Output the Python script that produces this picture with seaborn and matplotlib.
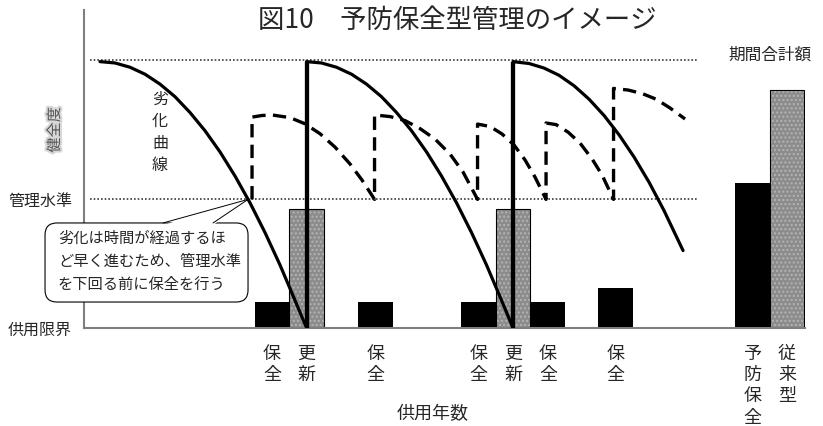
import numpy as np
import pandas as pd
import seaborn as sns
import matplotlib.pyplot as plt
import matplotlib.transforms as mtransforms
from matplotlib import patheffects
from matplotlib.patches import FancyBboxPatch, Polygon, Rectangle

# health (0 = 供用限界, 100 = new) against service years
full_health = 100
mgmt_level = 48

# degradation curves without maintenance (solid)
curve1_x = [3.2, 6.2, 9.2, 12.2, 15.2, 18.2, 21.2, 24.2, 27.2, 30.2, 33.2, 36.2, 39.2, 42.2, 44.5]
curve1_h = [99.4, 98.9, 97.3, 94.7, 91.0, 86.3, 80.4, 73.6, 65.7, 56.7, 46.7, 35.6, 23.5, 10.3, 0.0]
curve2_x = [44.5, 47.5, 50.5, 53.5, 56.5, 59.5, 62.5, 65.5, 68.5, 71.5, 74.5, 77.5, 80.5, 83.5, 85.8]
curve2_h = [99.4, 98.9, 97.3, 94.7, 91.0, 86.3, 80.4, 73.6, 65.7, 56.7, 46.7, 35.6, 23.5, 10.3, 0.0]
curve3_x = [85.8, 89.0, 92.0, 95.0, 98.0, 101.0, 104.0, 107.0, 110.0, 113.0, 116.0, 119.8]
curve3_h = [99.4, 98.7, 97.0, 94.3, 90.4, 85.4, 79.3, 72.1, 63.8, 54.4, 43.8, 28.9]

# preventive maintenance path (dashed)
pm_x = [33.6, 33.6, 35.6, 37.6, 41.2, 44.2, 47.2, 50.2, 53.2, 55.6, 58.1,
        58.1, 61.2, 64.2, 67.2, 70.2, 73.2, 75.8, 78.7,
        78.7, 81.2, 83.6, 86.0, 88.2, 90.2, 92.4,
        92.4, 94.4, 96.8, 99.2, 101.6, 103.6, 105.9,
        105.9, 108.8, 111.6, 114.4, 117.2, 120.2]
pm_h = [48, 78.7, 79.3, 79.5, 78.5, 76.2, 72.5, 67.5, 61.2, 55.2, 48,
        79.5, 78.9, 77.4, 74.4, 70.5, 64.9, 58.2, 48,
        76.1, 75.2, 72.4, 68.3, 62.7, 56.3, 48,
        76.5, 75.9, 73.1, 69.0, 63.1, 57.1, 48,
        89.4, 88.8, 87.5, 85.4, 82.1, 78.0]

# costs
maint_x = [37.6, 58.3, 78.9, 92.8, 106.3]
maint_cost = [2, 2, 2, 2, 3]
renew_x = [44.5, 85.8]
renew_cost = [9, 9]
total_x = [133.7, 140.6]
total_cost = [11, 18]

maint_label = "保全"
renew_label = "更新"
total_labels = ["予防保全", "従来型"]
title = "図10　予防保全型管理のイメージ"
callout = "劣化は時間が経過するほ\nど早く進むため、管理水準\nを下回る前に保全を行う"

sns.set_theme(style="white")
plt.rcParams["font.family"] = ["Noto Sans CJK JP", "DejaVu Sans"]

fig = plt.figure(figsize=(8.23, 4.26), dpi=100)
ax = fig.add_axes([0.1021, 0.2300, 0.8761, 0.7465])
ax2 = ax.twinx()

# cost bars on the twin axes, drawn underneath the curves
bars = pd.DataFrame({
    "x": maint_x + renew_x + total_x,
    "cost": maint_cost + renew_cost + total_cost,
    "type": ["予防保全"] * len(maint_x) + ["従来型"] * len(renew_x) + total_labels,
})
sns.barplot(data=bars, x="x", y="cost", hue="type",
            palette={"予防保全": "black", "従来型": "#8c8c8c"},
            native_scale=True, width=1, saturation=1, errorbar=None,
            legend=False, ax=ax2)
for p in list(ax2.patches):
    if p.get_facecolor()[0] > 0.1:
        p.set_hatch("....")
        p.set_edgecolor("#b4b4b4")
        p.set_linewidth(0)
        ax2.add_patch(Rectangle(p.get_xy(), p.get_width(), p.get_height(),
                                fill=False, ec="black", lw=0.8))
    else:
        p.set_linewidth(0)
ax2.set_ylim(0, 24.09)
ax2.set_axis_off()

ax.set_zorder(ax2.get_zorder() + 1)
ax.patch.set_visible(False)

# reference levels
ax.hlines([full_health, mgmt_level], 1.2, 122.8, colors="#3c3c3c",
          linewidth=1.2, linestyles=(0, (1, 1.2)), zorder=1)

for cx, cy in [(curve1_x, curve1_h), (curve2_x, curve2_h), (curve3_x, curve3_h)]:
    sns.lineplot(x=cx, y=cy, ax=ax, color="black", linewidth=2.3,
                 estimator=None, sort=False)
ax.vlines(renew_x, 0, curve2_h[0], colors="black", linewidth=3.1, zorder=3)
sns.lineplot(x=pm_x, y=pm_h, ax=ax, color="black", linewidth=2.4,
             estimator=None, sort=False, linestyle=(0, (4, 2.2)))

ax.set_xlim(0, 144.2)
ax.set_ylim(0, 118.66)

# axes look
sns.despine(ax=ax)
for s in ["left", "bottom"]:
    ax.spines[s].set_color("#7f7f7f")
    ax.spines[s].set_linewidth(1.5)

tick_x = maint_x + renew_x + total_x
tick_lab = (["\n".join(maint_label)] * len(maint_x)
            + ["\n".join(renew_label)] * len(renew_x)
            + ["\n".join(t) for t in total_labels])
ax.set_xticks(tick_x, tick_lab)
ax.tick_params(axis="x", length=0, pad=12, labelsize=13)
for t in ax.get_xticklabels():
    t.set_linespacing(1.24)
ax.set_yticks([0, mgmt_level], ["供用限界", "管理水準"])
ax.tick_params(axis="y", length=0, pad=8.6, labelsize=11.5)

ax.set_ylabel("健全度", fontsize=11, color="#555555",
              path_effects=[patheffects.withStroke(linewidth=3, foreground="#d8d8d8")])
ax.yaxis.set_label_coords(-0.029, 0.623)
ax.set_xlabel("供用年数", fontsize=13)
ax.xaxis.set_label_coords(0.483, -0.242)

fig.text(0.5553, 0.953, title, ha="center", va="center", fontsize=19)

trans = mtransforms.blended_transform_factory(ax.transData, ax.transAxes)
ax.text(np.mean(total_x), 0.858, "期間合計額", transform=trans,
        ha="center", va="center", fontsize=12)
ax.text(15.2, 73, "\n".join("劣化曲線"), ha="center", va="center",
        fontsize=11.5, linespacing=1.38)

# callout box
tip = (np.interp(mgmt_level, curve1_h[::-1], curve1_x[::-1]), mgmt_level)
ax.add_patch(FancyBboxPatch((-7.8, 9.7), 40.6, 29.5,
                            boxstyle="round,pad=0,rounding_size=2.4",
                            mutation_aspect=5 / 2.68, fc="white", ec="black",
                            lw=0.8, clip_on=False, zorder=5))
ax.add_patch(Polygon([(15.8, 38.4), (25.8, 38.4), tip], closed=True,
                     fc="white", ec="none", clip_on=False, zorder=5.5))
for bx in [15.8, 25.8]:
    ax.plot([bx, tip[0]], [39.2, tip[1]], color="black", lw=0.7,
            clip_on=False, zorder=6)
ax.text(-5.2, 25.0, callout, ha="left", va="center", fontsize=11,
        linespacing=1.48, zorder=7)

fig.savefig("out.png", dpi=100)
